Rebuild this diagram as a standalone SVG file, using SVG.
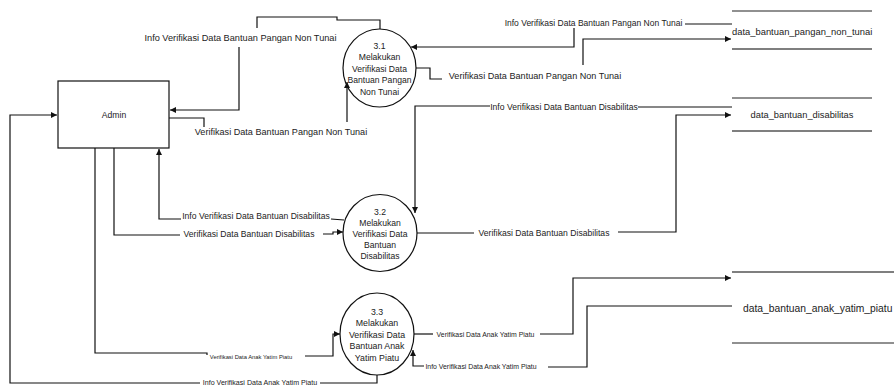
<svg xmlns="http://www.w3.org/2000/svg" width="894" height="387" viewBox="0 0 894 387">
  <defs>
    <marker id="arrow" markerWidth="6" markerHeight="6" refX="6" refY="3" orient="auto" markerUnits="userSpaceOnUse">
      <path d="M0,0 L6,3 L0,6 z" fill="#111"/>
    </marker>
    <style>
      text { font-family: "Liberation Sans", Arial, sans-serif; fill: #222; dominant-baseline: central; }
      .mid { text-anchor: middle; }
      .node { fill: #fff; stroke: #111; stroke-width: 1.2; }
      .store { stroke: #222; stroke-width: 1.2; fill: none; }
      .store2 { stroke: #555; stroke-width: 1.4; fill: none; }
      .flow { fill: none; stroke: #111; stroke-width: 1.2; }
      .arr { marker-end: url(#arrow); }
    </style>
  </defs>
  <rect width="894" height="387" fill="#fff"/>

  <!-- external entity -->
  <g id="admin">
    <rect class="node" x="58" y="81" width="111" height="67"/>
    <text class="mid" x="114" y="115" font-size="8.6">Admin</text>
  </g>

  <!-- processes -->
  <g id="p31">
    <ellipse class="node" cx="379.5" cy="68" rx="36.5" ry="39"/>
    <text class="mid" x="379.5" y="45.5" font-size="8.6">3.1</text>
    <text class="mid" x="379.5" y="57" font-size="8.6">Melakukan</text>
    <text class="mid" x="379.5" y="68.5" font-size="8.6">Verifikasi Data</text>
    <text class="mid" x="379.5" y="80" font-size="8.6">Bantuan Pangan</text>
    <text class="mid" x="379.5" y="91.5" font-size="8.6">Non Tunai</text>
  </g>
  <g id="p32">
    <ellipse class="node" cx="380" cy="233" rx="37" ry="38.5"/>
    <text class="mid" x="380" y="212" font-size="8.6">3.2</text>
    <text class="mid" x="380" y="223" font-size="8.6">Melakukan</text>
    <text class="mid" x="380" y="233.5" font-size="8.6">Verifikasi Data</text>
    <text class="mid" x="380" y="244.5" font-size="8.6">Bantuan</text>
    <text class="mid" x="380" y="256" font-size="8.6">Disabilitas</text>
  </g>
  <g id="p33">
    <ellipse class="node" cx="377" cy="334" rx="37" ry="41"/>
    <text class="mid" x="377" y="312" font-size="8.8">3.3</text>
    <text class="mid" x="377" y="323" font-size="8.8">Melakukan</text>
    <text class="mid" x="377" y="334.5" font-size="8.8">Verifikasi Data</text>
    <text class="mid" x="377" y="346" font-size="8.8">Bantuan Anak</text>
    <text class="mid" x="377" y="357.5" font-size="8.8">Yatim Piatu</text>
  </g>

  <!-- data stores -->
  <g id="store_pangan">
    <path class="store" d="M732,11 H872"/>
    <path class="store2" d="M732,49 H872"/>
    <text x="732" y="31" font-size="9.4">data_bantuan_pangan_non_tunai</text>
  </g>
  <g id="store_disabilitas">
    <path class="store" d="M732,98 H872"/>
    <path class="store2" d="M732,131 H872"/>
    <text class="mid" x="802" y="115" font-size="9.3">data_bantuan_disabilitas</text>
  </g>
  <g id="store_yatim">
    <path class="store2" d="M732,272 H894"/>
    <path class="store" d="M732,343 H894"/>
    <text x="743" y="308" font-size="10.3">data_bantuan_anak_yatim_piatu</text>
  </g>

  <!-- data flows -->
  <g id="connectors">
    <!-- 3.1 -> Admin -->
    <path class="flow" d="M380,29 V20 H337 V17 H257 V28"/>
    <path class="flow arr" d="M239,47 V110 H170"/>
    <text class="mid" x="240.5" y="38" font-size="9.2">Info Verifikasi Data Bantuan Pangan Non Tunai</text>

    <!-- Admin -> 3.1 -->
    <path class="flow" d="M169,118 H204 V127"/>
    <path class="flow arr" d="M347,122 V82"/>
    <text class="mid" x="281" y="132" font-size="9.1">Verifikasi Data Bantuan Pangan Non Tunai</text>

    <!-- data_bantuan_pangan_non_tunai -> 3.1 -->
    <path class="flow" d="M732,24 H685"/>
    <path class="flow arr" d="M574,28 V47 H411"/>
    <text class="mid" x="593.5" y="23" font-size="8.5">Info Verifikasi Data Bantuan Pangan Non Tunai</text>

    <!-- 3.1 -> data_bantuan_pangan_non_tunai -->
    <path class="flow" d="M416,68 H430 V79 H442"/>
    <path class="flow arr" d="M583,65 V39 H731"/>
    <text class="mid" x="535" y="76" font-size="9.1">Verifikasi Data Bantuan Pangan Non Tunai</text>

    <!-- data_bantuan_disabilitas -> 3.2 -->
    <path class="flow" d="M732,107 H638"/>
    <path class="flow arr" d="M490,106 H415 V213"/>
    <text class="mid" x="564" y="107" font-size="8.6">Info Verifikasi Data Bantuan Disabilitas</text>

    <!-- 3.2 -> data_bantuan_disabilitas -->
    <path class="flow" d="M417,233 H474"/>
    <path class="flow arr" d="M618,232 H676 V115 H731"/>
    <text class="mid" x="544" y="233" font-size="8.6">Verifikasi Data Bantuan Disabilitas</text>

    <!-- 3.2 -> Admin -->
    <path class="flow" d="M344,220 L331,219"/>
    <path class="flow arr" d="M181,219 H159 V149"/>
    <text class="mid" x="256" y="216" font-size="8.6">Info Verifikasi Data Bantuan Disabilitas</text>

    <!-- Admin -> 3.2 -->
    <path class="flow" d="M114,148 V235 H180"/>
    <path class="flow arr" d="M323,234 H333 V232 H343"/>
    <text class="mid" x="249" y="234" font-size="8.6">Verifikasi Data Bantuan Disabilitas</text>

    <!-- Admin -> 3.3 -->
    <path class="flow" d="M95,148 V353 H207 V355"/>
    <path class="flow arr" d="M305,356 H333 V334 H340"/>
    <text class="mid" x="251" y="357" font-size="5.8">Verifikasi Data Anak Yatim Piatu</text>

    <!-- 3.3 -> Admin -->
    <path class="flow" d="M377,375 V383 H320"/>
    <path class="flow arr" d="M200,383 H10 V115 H57"/>
    <text class="mid" x="260" y="383" font-size="7.1">Info Verifikasi Data Anak Yatim Piatu</text>

    <!-- 3.3 -> data_bantuan_anak_yatim_piatu -->
    <path class="flow" d="M414,334 H433"/>
    <path class="flow arr" d="M540,334 H573 V278 H731"/>
    <text class="mid" x="485.5" y="334" font-size="6.9">Verifikasi Data Anak Yatim Piatu</text>

    <!-- data_bantuan_anak_yatim_piatu -> 3.3 -->
    <path class="flow" d="M732,306 H587 V367 H548"/>
    <path class="flow arr" d="M424,366 H413 V350"/>
    <text class="mid" x="481" y="366" font-size="6.9">Info Verifikasi Data Anak Yatim Piatu</text>
  </g>
</svg>
